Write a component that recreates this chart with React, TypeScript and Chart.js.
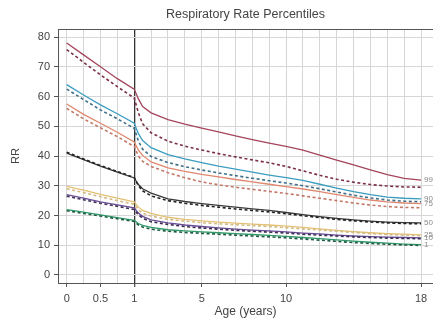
import { useEffect, useRef } from "react";
import { Chart, registerables } from "chart.js";

Chart.register(...registerables);

// ---------- data ----------
const AGES = [0, 0.25, 0.5, 0.75, 1, 1.25, 1.5, 2, 3, 4, 5, 6, 7, 8, 9, 10, 11, 12, 13, 14, 15, 16, 17, 18];

const P99_SOLID = [78, 74, 70, 66, 62.5, 59.2, 56.6, 54.5, 52.2, 50.7, 49.4, 48.1, 46.8, 45.5, 44.3, 43.2, 42, 40.3, 38.6, 37, 35.3, 33.7, 32.5, 31.9];
const P99_DASH = [75.8, 71.5, 67.3, 63.3, 59.5, 54.5, 50.8, 47.8, 45, 43.3, 42, 40.8, 39.7, 38.7, 37.7, 36.5, 35, 33.5, 32.2, 31.2, 30.4, 29.9, 29.6, 29.5];
const P90_SOLID = [64, 60.5, 57.2, 54.2, 51, 47.5, 45.2, 42.8, 40.5, 39, 37.8, 36.6, 35.6, 34.6, 33.6, 32.7, 31.8, 30.5, 29.2, 28, 27, 26.2, 25.8, 25.6];
const P90_DASH = [62.5, 59, 55.5, 52.5, 49.3, 45, 42.3, 39.8, 37.8, 36.4, 35.3, 34.3, 33.4, 32.5, 31.7, 30.9, 30, 29, 27.9, 26.8, 25.9, 25.2, 24.8, 24.6];
const P75_SOLID = [57.5, 54, 51, 48, 44.7, 42, 40.2, 38, 36, 34.8, 33.8, 33, 32.1, 31.3, 30.5, 29.7, 28.9, 28, 27, 26.1, 25.2, 24.6, 24.2, 24];
const P75_DASH = [56, 52.5, 49.5, 46.5, 43.2, 40, 38.2, 36.5, 34.4, 32.7, 31.3, 30.3, 29.5, 28.8, 28.1, 27.4, 26.6, 25.8, 25, 24.2, 23.5, 23, 22.7, 22.6];
const P50_SOLID = [41, 38.8, 36.6, 34.6, 32.6, 30.4, 29, 27.5, 25.6, 24.7, 24, 23.4, 22.8, 22.2, 21.7, 21, 20.3, 19.6, 19, 18.5, 18.1, 17.8, 17.6, 17.5];
const P50_DASH = [41.3, 39, 36.8, 34.8, 32.8, 30, 28.3, 26.6, 25, 24.1, 23.4, 22.8, 22.2, 21.7, 21.2, 20.6, 19.9, 19.3, 18.7, 18.2, 17.8, 17.5, 17.3, 17.2];
const P25_SOLID = [29.8, 28.5, 27.1, 25.8, 24.6, 22.8, 21.7, 20.7, 19.4, 18.7, 18.2, 17.8, 17.4, 17.1, 16.8, 16.4, 16, 15.5, 15, 14.6, 14.2, 13.9, 13.7, 13.5];
const P25_DASH = [29, 27.7, 26.3, 25, 23.8, 21.9, 20.8, 19.8, 18.7, 18.1, 17.6, 17.2, 16.9, 16.6, 16.3, 15.9, 15.5, 15.1, 14.7, 14.3, 13.9, 13.6, 13.4, 13.2];
const P10_SOLID = [27, 25.8, 24.6, 23.6, 22.6, 20.8, 19.7, 18.5, 17.5, 16.8, 16.3, 15.8, 15.4, 15.1, 14.8, 14.5, 14.1, 13.8, 13.4, 13.1, 12.9, 12.7, 12.6, 12.5];
const P10_DASH = [26.5, 25.3, 24.1, 23.1, 22, 20.2, 19.1, 17.9, 17, 16.3, 15.8, 15.4, 15, 14.7, 14.4, 14.1, 13.7, 13.4, 13.1, 12.8, 12.6, 12.4, 12.3, 12.2];
const P1_SOLID = [22, 21.1, 20.2, 19.3, 18.4, 17.3, 16.7, 16, 15.2, 14.8, 14.5, 14.2, 13.9, 13.6, 13.3, 13, 12.6, 12.2, 11.8, 11.4, 11, 10.7, 10.4, 10.2];
const P1_DASH = [21.6, 20.7, 19.8, 18.9, 18, 16.8, 16.1, 15.4, 14.7, 14.3, 14, 13.7, 13.4, 13.1, 12.8, 12.5, 12.1, 11.7, 11.3, 10.9, 10.6, 10.3, 10.1, 9.9];

const PERCENTILE_LABELS = ["99", "90", "75", "50", "25", "10", "1"];

const X_GRID_AGES = [0, 0.25, 0.5, 0.75, 1, 2, 3, 4, 5, 6, 7, 8, 9, 10, 11, 12, 13, 14, 15, 16, 17, 18];
const X_TICK_AGES = [0, 0.5, 1, 5, 10, 18];
const X_TICK_LABELS = ["0", "0.5", "1", "5", "10", "18"];
const Y_TICKS = [0, 10, 20, 30, 40, 50, 60, 70, 80];

// ---------- styling ----------
const W = 433;
const H = 320;
const FONT = "'Liberation Sans', Arial, Helvetica, sans-serif";
const AFTER_ONE_SCALE = 0.25; // axis is compressed after age 1

const toX = (age: number) => (age <= 1 ? age : 1 + (age - 1) * AFTER_ONE_SCALE);
const close = (a: number, b: number) => Math.abs(a - b) < 1e-6;

const SERIES = [
  { label: "99", solid: P99_SOLID, dash: P99_DASH, cs: "#a4455c", cd: "#7c3047" },
  { label: "90", solid: P90_SOLID, dash: P90_DASH, cs: "#3b9dc0", cd: "#3e7088" },
  { label: "75", solid: P75_SOLID, dash: P75_DASH, cs: "#e0876e", cd: "#c47767" },
  { label: "50", solid: P50_SOLID, dash: P50_DASH, cs: "#3a3a3a", cd: "#222222" },
  { label: "25", solid: P25_SOLID, dash: P25_DASH, cs: "#e3c072", cd: "#d4bb86" },
  { label: "10", solid: P10_SOLID, dash: P10_DASH, cs: "#6a4c98", cd: "#3a2e52" },
  { label: "1", solid: P1_SOLID, dash: P1_DASH, cs: "#2f9a68", cd: "#1f5a44" },
];

const endLabelPlugin = {
  id: "endLabels",
  afterDatasetsDraw(chart: any) {
    const ctx = chart.ctx;
    ctx.save();
    ctx.font = `8px ${FONT}`;
    ctx.fillStyle = "#8a8a8a";
    ctx.textBaseline = "middle";
    ctx.textAlign = "left";
    chart.data.datasets.forEach((ds: any, i: number) => {
      if (!ds.endLabel) return;
      const meta = chart.getDatasetMeta(i);
      const pt = meta.data[meta.data.length - 1];
      if (pt) ctx.fillText(ds.endLabel, pt.x + 3, pt.y);
    });
    ctx.restore();
  },
};

const topBorderPlugin = {
  id: "topBorder",
  afterDraw(chart: any) {
    const { ctx, chartArea } = chart;
    ctx.save();
    ctx.strokeStyle = "#555";
    ctx.lineWidth = 1;
    ctx.beginPath();
    ctx.moveTo(chartArea.left, chartArea.top + 0.5);
    ctx.lineTo(chartArea.right, chartArea.top + 0.5);
    ctx.stroke();
    ctx.restore();
  },
};

export default function App() {
  const ref = useRef<HTMLCanvasElement>(null);

  useEffect(() => {
    if (!ref.current) return;
    const datasets: any[] = [];
    SERIES.forEach((s, idx) => {
      datasets.push({
        label: s.label + " dashed",
        data: AGES.map((a, i) => ({ x: toX(a), y: s.dash[i] })),
        borderColor: s.cd,
        borderWidth: 1.6,
        borderDash: [3, 2.5],
        pointRadius: 0,
        tension: 0,
        fill: false,
      });
      datasets.push({
        label: s.label,
        endLabel: PERCENTILE_LABELS[idx],
        data: AGES.map((a, i) => ({ x: toX(a), y: s.solid[i] })),
        borderColor: s.cs,
        borderWidth: 1.3,
        pointRadius: 0,
        tension: 0,
        fill: false,
      });
    });

    const chart = new Chart(ref.current, {
      type: "line",
      data: { datasets },
      plugins: [endLabelPlugin, topBorderPlugin],
      options: {
        animation: false,
        responsive: false,
        devicePixelRatio: 1,
        layout: { padding: { left: 0, right: 0, top: 0, bottom: 0 } },
        plugins: {
          legend: { display: false },
          tooltip: { enabled: false },
          title: {
            display: true,
            text: "Respiratory Rate Percentiles",
            fullSize: false,
            color: "#444",
            font: { family: FONT, size: 12.5, weight: "normal" },
            padding: { top: 7.5, bottom: 6.5 },
          },
        },
        scales: {
          x: {
            type: "linear",
            min: -0.129,
            max: 5.427,
            afterFit: (scale: any) => {
              scale.height = 37;
            },
            afterBuildTicks: (scale: any) => {
              scale.ticks = X_GRID_AGES.map((a) => ({ value: toX(a) }));
            },
            ticks: {
              autoSkip: false,
              maxRotation: 0,
              padding: 5,
              color: "#444",
              font: { family: FONT, size: 11 },
              callback: (value: any) => {
                const k = X_TICK_AGES.findIndex((a) => close(toX(a), Number(value)));
                return k >= 0 ? X_TICK_LABELS[k] : "";
              },
            },
            grid: {
              color: (ctx: any) => (ctx.tick && close(ctx.tick.value, 1) ? "#333" : "#d6d6d6"),
              lineWidth: (ctx: any) => (ctx.tick && close(ctx.tick.value, 1) ? 1.3 : 1),
              tickColor: (ctx: any) =>
                ctx.tick && X_TICK_AGES.some((a) => close(toX(a), ctx.tick.value)) ? "#555" : "rgba(0,0,0,0)",
              tickLength: 4,
            },
            border: { color: "#555", width: 1 },
            title: {
              display: true,
              text: "Age (years)",
              color: "#444",
              font: { family: FONT, size: 12 },
              padding: { top: 0, bottom: 1 },
            },
          },
          y: {
            type: "linear",
            min: -2.7,
            max: 82.7,
            afterFit: (scale: any) => {
              scale.width = 58;
            },
            afterBuildTicks: (scale: any) => {
              scale.ticks = Y_TICKS.map((v) => ({ value: v }));
            },
            ticks: {
              padding: 4,
              color: "#444",
              font: { family: FONT, size: 11 },
            },
            grid: {
              color: "#d6d6d6",
              lineWidth: 1,
              tickColor: "#555",
              tickLength: 4,
            },
            border: { color: "#555", width: 1 },
            title: {
              display: true,
              text: "RR",
              color: "#444",
              font: { family: FONT, size: 11 },
              padding: { top: 9, bottom: 0 },
            },
          },
        },
      } as any,
    });
    return () => chart.destroy();
  }, []);

  return (
    <div style={{ position: "fixed", left: 0, top: 0, width: W, height: H, background: "#fff" }}>
      <canvas ref={ref} width={W} height={H} style={{ display: "block", width: W, height: H }} />
    </div>
  );
}
